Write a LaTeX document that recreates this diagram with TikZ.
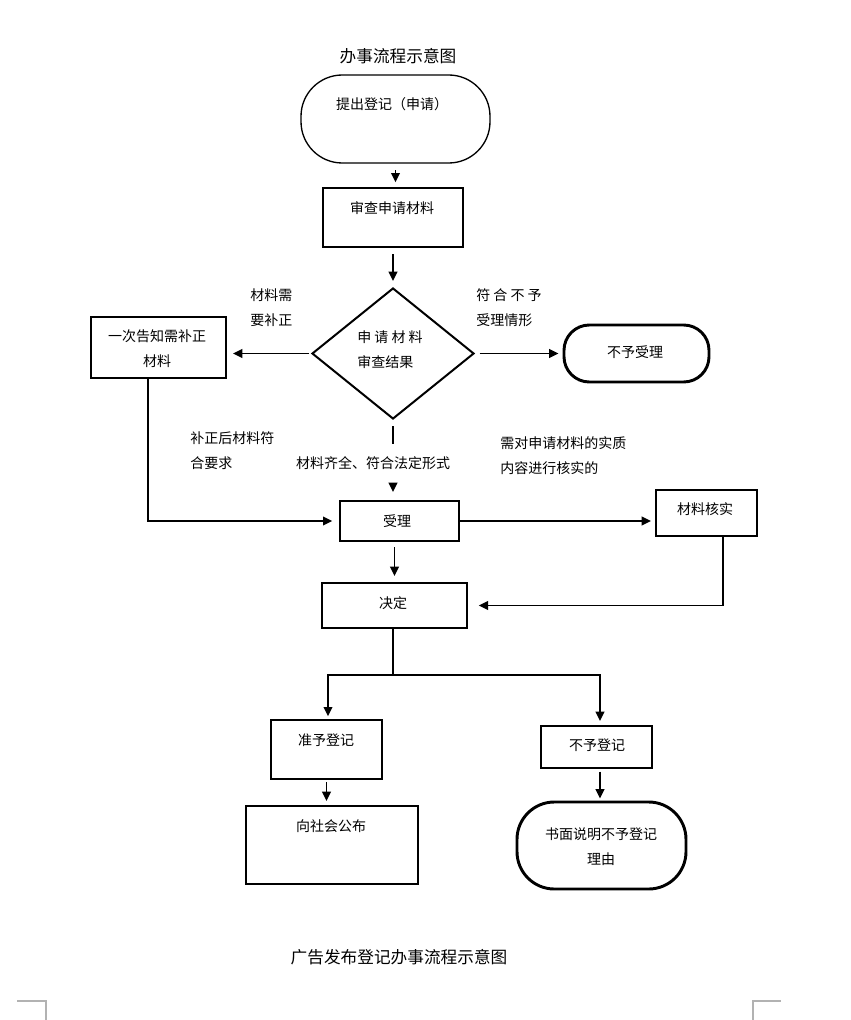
\documentclass[tikz,border=0pt]{standalone}
\usepackage{fontspec}
\setmainfont{Noto Sans CJK SC}
\usetikzlibrary{shapes.geometric,arrows.meta,calc}
\begin{document}
\begin{tikzpicture}[x=0.75pt,y=-0.75pt,
  txt/.style={font=\fontsize{10.5}{18.75}\selectfont, inner sep=0pt},
  ttl/.style={font=\fontsize{12.5}{15}\selectfont, inner sep=0pt},
  box/.style={draw, line width=1.5pt, rectangle, inner sep=0pt},
  term/.style={draw, line width=2.2pt, rectangle, inner sep=0pt},
  conn/.style={line width=1.35pt},
  arr/.style={line width=1.35pt, -{Triangle[length=7pt,width=6.5pt]}},
  cornermark/.style={draw=gray!60, line width=0.8pt}
]
\useasboundingbox (0,0) rectangle (850,1020);

% titles
\node[ttl] (title) at (398,56) {办事流程示意图};
\node[ttl] (footer) at (399,957) {广告发布登记办事流程示意图};

% start terminal
\node[draw, line width=1pt, rectangle, rounded corners=31pt, minimum width=141.75pt, minimum height=66pt] (start) at (395.5,119) {};
\node[txt] (startt) at (392,104) {提出登记（申请）};

% review box
\node[box, minimum width=105pt, minimum height=44.25pt] (rev) at (393,217.5) {};
\node[txt] (revt) at (392,208) {审查申请材料};

% diamond
\node[draw, line width=1.5pt, diamond, aspect=1.24, inner sep=0pt, minimum width=121.5pt, minimum height=98.25pt] (dia) at (393,353.5) {};
\node[txt, align=left, anchor=west] (diat) at (357,349.5) {申 请 材 料\\审查结果};

% correction box
\node[box, minimum width=101.25pt, minimum height=45.75pt] (fix) at (158.5,347.5) {};
\node[txt, align=center] (fixt) at (157,348.5) {一次告知需补正\\材料};

% reject terminal
\node[term, rounded corners=19pt, minimum width=108.75pt, minimum height=42.75pt] (rej) at (636.5,353.5) {};
\node[txt] (rejt) at (635,352) {不予受理};

% accept box
\node[box, minimum width=89.25pt, minimum height=30pt] (acc) at (399.5,521) {};
\node[txt] (acct) at (397,521) {受理};

% verify box
\node[box, minimum width=75.75pt, minimum height=34.5pt] (ver) at (706.5,513) {};
\node[txt] (vert) at (705,509) {材料核实};

% decision box
\node[box, minimum width=108.75pt, minimum height=33.75pt] (dec) at (394.5,605.5) {};
\node[txt] (dect) at (393,603) {决定};

% approve box
\node[box, minimum width=83.25pt, minimum height=44.25pt] (app) at (326.5,749.5) {};
\node[txt] (appt) at (326,740) {准予登记};

% deny box
\node[box, minimum width=83.25pt, minimum height=31.5pt] (den) at (596.5,747) {};
\node[txt] (dent) at (597,745) {不予登记};

% publish box
\node[box, minimum width=129pt, minimum height=58.5pt] (pub) at (332,845) {};
\node[txt] (pubt) at (331,826) {向社会公布};

% reason terminal
\node[term, rounded corners=28pt, minimum width=126.75pt, minimum height=65.25pt] (rea) at (601.5,845.5) {};
\node[txt, align=center] (reat) at (601,846.5) {书面说明不予登记\\理由};

% labels
\node[txt, align=left, anchor=west] (l1) at (250,307.5) {材料需\\要补正};
\node[txt, align=left, anchor=west] (l2) at (476,307.5) {符 合 不 予\\受理情形};
\node[txt, align=left, anchor=west] (l3) at (190,450.5) {补正后材料符\\合要求};
\node[txt, align=left, anchor=west] (l4) at (500,455.5) {需对申请材料的实质\\内容进行核实的};
\node[txt] (l5) at (373,463) {材料齐全、符合法定形式};

% connectors
\draw[arr, shorten <=5pt, shorten >=3.5pt] (start.south) -- (start.south |- rev.north);
\draw[arr, shorten <=4.5pt, shorten >=4.5pt] (rev.south -| dia.north) -- (dia.north);
\draw[arr, shorten <=1.5pt, shorten >=4.5pt] (dia.west) -- (dia.west -| fix.east);
\draw[arr, shorten <=3.5pt, shorten >=3pt] (dia.east) -- (rej.west);
\draw[conn, shorten <=4.5pt] (dia.south) -- ($(dia.south)+(0,24)$);
\draw[arr, shorten <=13pt, shorten >=6pt] (dia.south |- l5.south) -- (dia.south |- acc.north);
\draw[arr, shorten >=5pt] ($(fix.south)+(-10.5,0)$) |- (acc.west);
\draw[arr, shorten >=3pt] (acc.east) -- (acc.east -| ver.west);
\draw[arr, shorten >=8pt] ($(ver.south)+(16.5,0)$) |- (dec.east);
\draw[arr, shorten <=4pt, shorten >=4.5pt] (dec.north |- acc.south) -- (dec.north);
\coordinate (split) at (393,675);
\draw[conn] (split |- dec.south) -- (split);
\coordinate (appin) at ($(app.north)+(1.5,0)$);
\coordinate (denin) at ($(den.north)+(3.5,0)$);
\coordinate (denout) at ($(den.south)+(3.5,0)$);
\draw[arr, shorten >=2pt] (split) -| (appin);
\draw[arr, shorten >=3pt] (split) -| (denin);
\draw[arr, shorten <=1.5pt, shorten >=3pt] (app.south) -- (app.south |- pub.north);
\draw[arr, shorten <=2pt, shorten >=1.5pt] (denout) -- (denout |- rea.north);

% corner marks
\draw[cornermark] (17,1001) -- (46,1001) -- (46,1020);
\draw[cornermark] (753,1020) -- (753,1001) -- (781,1001);
\end{tikzpicture}
\end{document}
